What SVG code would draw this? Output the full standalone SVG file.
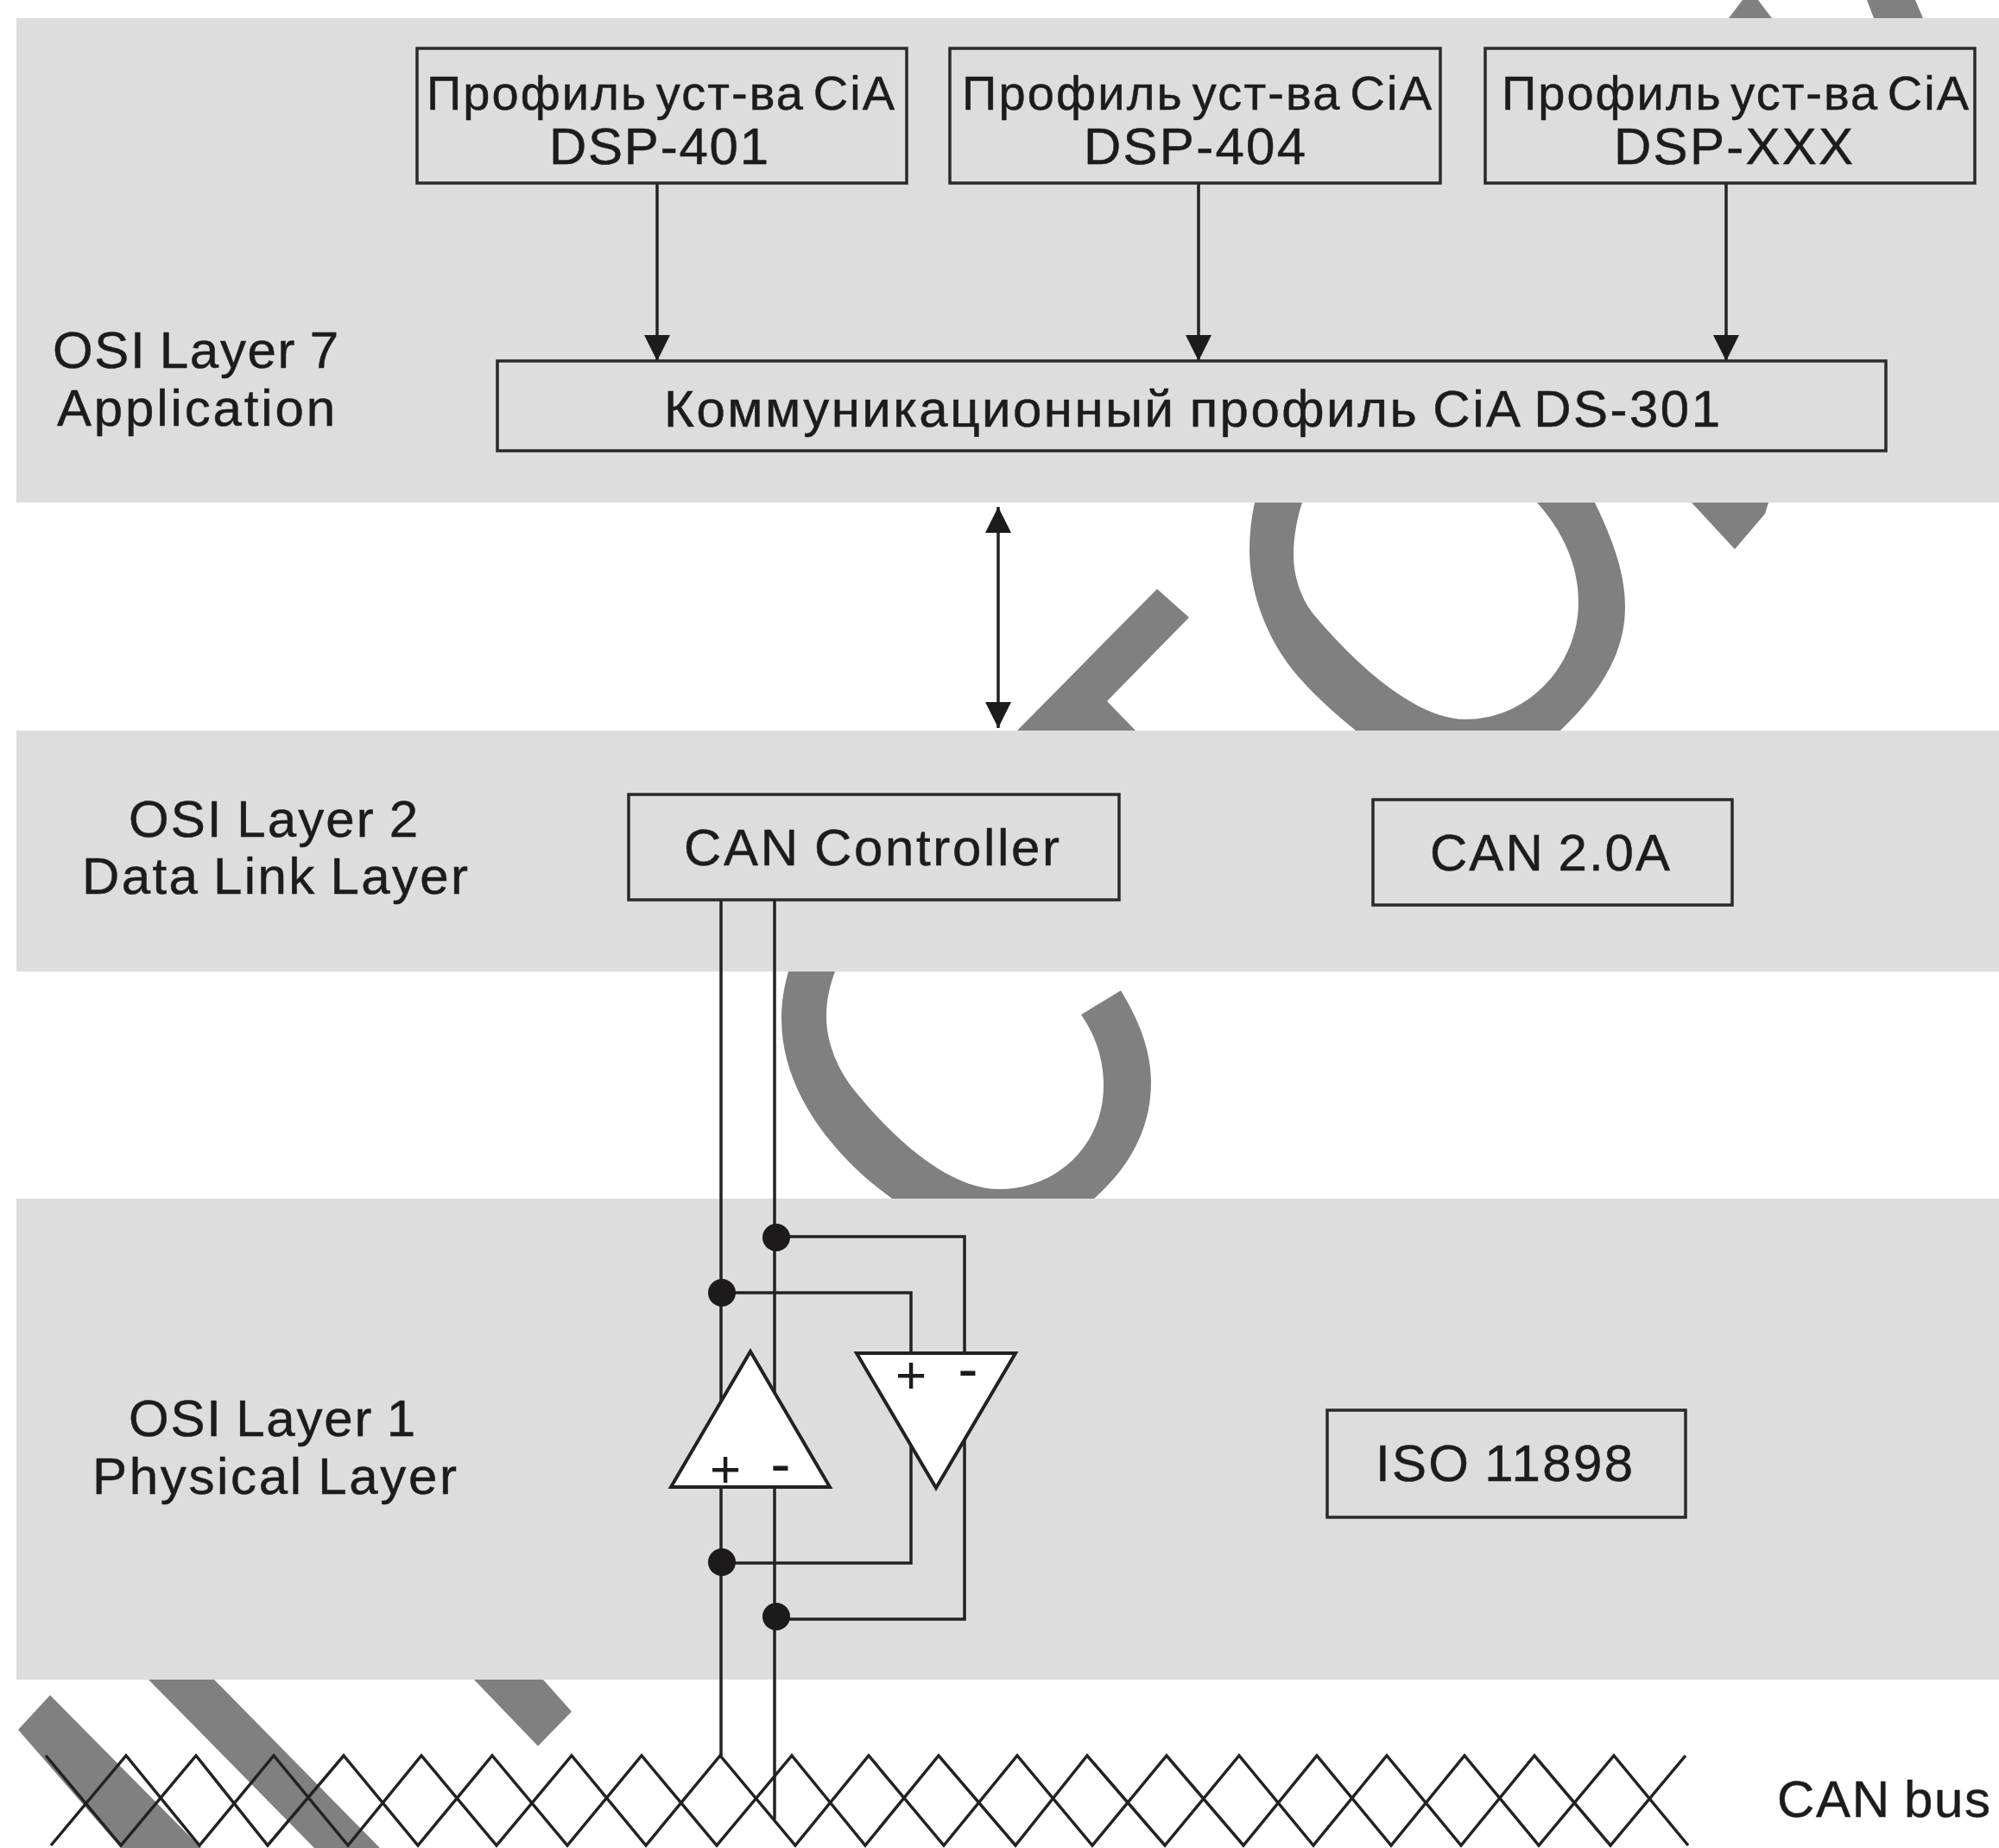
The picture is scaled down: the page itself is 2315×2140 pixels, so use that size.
<svg xmlns="http://www.w3.org/2000/svg" width="2315" height="2140" viewBox="0 0 2315 2140">
<defs>
<style>
.wm{fill:#808080;stroke:none}
.band{fill:#dddddd;stroke:none}
.box{fill:none;stroke:#2a2a2a;stroke-width:3.5}
.t{font-family:"Liberation Sans",Arial,sans-serif;fill:#1c1c1c;stroke:#1c1c1c;stroke-width:.5}
.s57{font-size:60px;word-spacing:-3px}
.s52{font-size:56px;word-spacing:-8px}
.w{fill:none;stroke:#222;stroke-width:3.5}
.tri{fill:#fff;stroke:#222;stroke-width:4;stroke-linejoin:miter}
.dot{fill:#1c1a1a}
.sp{font-family:"Liberation Sans",Arial,sans-serif;font-size:62px;fill:#1c1c1c;text-anchor:middle}
.sm{font-family:"Liberation Sans",Arial,sans-serif;font-size:70px;fill:#1c1c1c;text-anchor:middle}
</style>
<marker id="ah" markerUnits="userSpaceOnUse" markerWidth="30" markerHeight="30" viewBox="0 0 28 28" refX="28" refY="14" orient="auto-start-reverse"><path d="M0 0L28 14L0 28Z" fill="#1c1c1c"/></marker>
</defs>
<rect width="2315" height="2140" fill="#fff"/>
<g id="watermark">
<polygon class="wm" points="2018,0 2036,0 2052,21 2002,21"/>
<polygon class="wm" points="2162,0 2218,0 2227,21 2170,21"/>
<polygon class="wm" points="1959,582 2048,582 2044,595 2009,636"/>
<polygon class="wm" points="1340,682 1377,715 1282,812 1315,846 1178,846"/>
<path class="wm" d="M1453,582C1449,600 1447,618 1447,637C1447,690 1470,745 1503,783C1525,808 1548,828 1570,846L1807,846C1855,800 1882,755 1882,703C1882,660 1865,620 1847,582L1780,582C1810,615 1828,655 1828,697C1828,770 1770,833 1697,833C1640,833 1570,770 1520,710C1505,690 1498,665 1498,643C1498,622 1502,600 1508,582Z"/>
<path class="wm" d="M913,1125C908,1143 905,1160 905,1180C905,1260 960,1335 1033,1388L1267,1388C1310,1350 1333,1305 1333,1253C1333,1215 1318,1180 1298,1147L1252,1175C1268,1198 1278,1225 1278,1257C1278,1325 1225,1377 1157,1377C1105,1377 1045,1330 993,1267C970,1240 957,1207 957,1177C957,1158 961,1141 967,1125Z"/>
<polygon class="wm" points="172,1945 248,1945 440,2140 364,2140"/>
<polygon class="wm" points="58,1963 21,2003 140,2140 233,2140"/>
<polygon class="wm" points="549,1945 629,1945 662,1982 623,2022"/>
</g>
<g id="bands">
<rect class="band" x="19" y="21" width="2296" height="561"/>
<rect class="band" x="19" y="846" width="2296" height="279"/>
<rect class="band" x="19" y="1388" width="2296" height="557"/>
</g>
<g id="connectors">
<line class="w" x1="761" y1="212" x2="761" y2="418" marker-end="url(#ah)"/>
<line class="w" x1="1388" y1="212" x2="1388" y2="418" marker-end="url(#ah)"/>
<line class="w" x1="1999" y1="212" x2="1999" y2="418" marker-end="url(#ah)"/>
<line class="w" x1="1156" y1="587" x2="1156" y2="843" marker-start="url(#ah)" marker-end="url(#ah)"/>
<line class="w" x1="835" y1="1042" x2="835" y2="2033"/>
<line class="w" x1="897" y1="1042" x2="897" y2="2107"/>
<polyline class="w" points="836,1497 1055,1497 1055,1570"/>
<polyline class="w" points="899,1432 1117,1432 1117,1570"/>
<polyline class="w" points="836,1810 1055,1810 1055,1670"/>
<polyline class="w" points="899,1875 1117,1875 1117,1660"/>
</g>
<g id="can-bus-lines">
<polyline class="w" points="59,2137 146,2033 231,2137 317,2033 403,2137 488,2033 575,2137 662,2033 748,2137 834,2033 921,2137 1006,2033 1093,2137 1178,2033 1265,2137 1351,2033 1440,2137 1525,2033 1611,2137 1696,2033 1782,2137 1869,2033 1955,2137"/>
<polyline class="w" points="53,2033 140,2137 227,2033 310,2137 398,2033 484,2137 570,2033 657,2137 743,2033 830,2137 917,2033 1002,2137 1087,2033 1176,2137 1259,2033 1349,2137 1435,2033 1521,2137 1606,2033 1692,2137 1777,2033 1865,2137 1952,2033"/>
</g>
<g id="osi-7"><text class="t s57" x="61" y="426" textLength="331">OSI Layer 7</text><text class="t s57" x="66" y="493" textLength="322">Application</text></g>
<g id="osi-2"><text class="t s57" x="149" y="969" textLength="335">OSI Layer 2</text><text class="t s57" x="95" y="1035" textLength="447">Data Link Layer</text></g>
<g id="osi-1"><text class="t s57" x="149" y="1663" textLength="332">OSI Layer 1</text><text class="t s57" x="107" y="1730" textLength="422">Physical Layer</text></g>
<g id="dsp-401"><rect class="box" x="483" y="56" width="567" height="156"/><text class="t s52" x="494" y="127" textLength="542">Профиль уст-ва CiA</text><text class="t s57" x="636" y="190" textLength="254">DSP-401</text></g>
<g id="dsp-404"><rect class="box" x="1100" y="56" width="568" height="156"/><text class="t s52" x="1114" y="127" textLength="544">Профиль уст-ва CiA</text><text class="t s57" x="1255" y="190" textLength="257">DSP-404</text></g>
<g id="dsp-xxx"><rect class="box" x="1720" y="56" width="567" height="156"/><text class="t s52" x="1739" y="127" textLength="541">Профиль уст-ва CiA</text><text class="t s57" x="1869" y="190" textLength="277">DSP-XXX</text></g>
<g id="ds-301"><rect class="box" x="576" y="418" width="1608" height="104"/><text class="t s57" x="769" y="494" textLength="1223">Коммуникационный профиль CiA DS-301</text></g>
<g id="can-controller"><rect class="box" x="728" y="920" width="568" height="122"/><text class="t s57" x="792" y="1002" textLength="435">CAN Controller</text></g>
<g id="can-20a"><rect class="box" x="1590" y="926" width="416" height="122"/><text class="t s57" x="1656" y="1008" textLength="278">CAN 2.0A</text></g>
<g id="iso-11898"><rect class="box" x="1537" y="1633" width="415" height="124"/><text class="t s57" x="1593" y="1715" textLength="298">ISO 11898</text></g>
<g id="rx"><polygon class="tri" points="869,1565 777,1722 961,1722"/><text class="sp" x="840" y="1722">+</text><text class="sm" x="904" y="1719">-</text></g>
<g id="tx"><polygon class="tri" points="992,1567 1176,1567 1084,1723"/><text class="sp" x="1055" y="1613">+</text><text class="sm" x="1121" y="1609">-</text></g>
<g id="junctions">
<circle class="dot" cx="836" cy="1497" r="16"/>
<circle class="dot" cx="899" cy="1433" r="16"/>
<circle class="dot" cx="836" cy="1809" r="16"/>
<circle class="dot" cx="899" cy="1872" r="16"/>
</g>
<g id="can-bus-label"><text class="t s57" x="2058" y="2104" textLength="247">CAN bus</text></g>
</svg>
